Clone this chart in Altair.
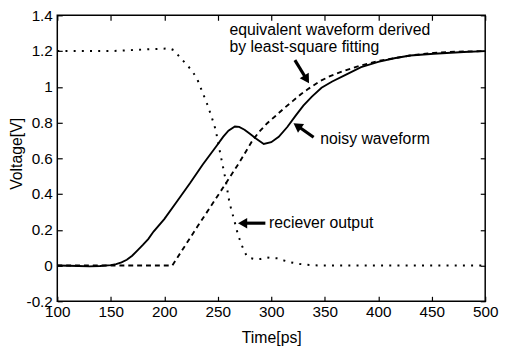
import math
import altair as alt
import pandas as pd

# ---------------- data ----------------
noisy_t = [100, 120, 130, 140, 150, 155, 160, 165, 170, 175, 180, 185, 190, 200, 212, 224, 236, 249,
           255, 260, 266, 270, 275, 280, 286, 293, 300, 307, 315, 323, 330, 338, 347, 357, 369, 384,
           400, 415, 430, 452, 480, 500]
noisy_v = [0, -0.003, -0.005, -0.003, 0.002, 0.008, 0.018, 0.032, 0.055, 0.085, 0.115, 0.148, 0.19, 0.26,
           0.36, 0.46, 0.565, 0.67, 0.72, 0.755, 0.778, 0.776, 0.76, 0.737, 0.709, 0.68, 0.69, 0.72,
           0.775, 0.84, 0.895, 0.945, 0.995, 1.03, 1.065, 1.11, 1.14, 1.16, 1.175, 1.185, 1.195, 1.2]

fit_t = [100, 207.5, 231, 255, 270, 283, 289, 296, 304, 312, 320, 328, 335, 345, 355, 366, 384, 400,
         415, 430, 452, 475, 500]
fit_v = [0, 0, 0.218, 0.436, 0.575, 0.705, 0.75, 0.795, 0.837, 0.88, 0.92, 0.96, 0.99, 1.03, 1.06,
         1.085, 1.12, 1.145, 1.16, 1.175, 1.19, 1.197, 1.2]

rx_t = [100, 150, 185, 205, 209, 214, 220, 226, 231, 235, 240, 244, 248, 252, 257, 261, 266, 269, 274,
        277, 280, 285, 290, 296, 300, 306, 312, 318, 325, 333, 345, 400, 500]
rx_v = [1.2, 1.2, 1.21, 1.215, 1.205, 1.17, 1.13, 1.09, 1.04, 0.98, 0.905, 0.837, 0.76, 0.637, 0.49,
        0.35, 0.24, 0.17, 0.09, 0.055, 0.042, 0.036, 0.037, 0.045, 0.042, 0.04, 0.028, 0.018, 0.01,
        0.004, 0, 0, 0]

label_text = ["equivalent waveform derived", "by least-square fitting", "noisy waveform", "reciever output"]
label_t = [261, 261, 345.8, 297.9]
label_v = [1.319, 1.22, 0.709, 0.237]

arrow_t0 = [322.1, 339.6, 294.5]
arrow_v0 = [1.149, 0.718, 0.237]
arrow_t1 = [334.5, 322.1, 270.5]
arrow_v1 = [1.028, 0.791, 0.237]

x_ticks = [100, 150, 200, 250, 300, 350, 400, 450, 500]
y_ticks = [-0.2, 0, 0.2, 0.4, 0.6, 0.8, 1, 1.2, 1.4]

# ---------------- layout ----------------
W, H = 434, 290
X0, X1 = 100, 500
Y0, Y1 = -0.2, 1.4
sx = W / (X1 - X0)
sy = H / (Y1 - Y0)
FONT = "Liberation Sans"
FS = 16
TFS = 15.5

xs = alt.Scale(domain=[X0, X1], nice=False, zero=False)
ys = alt.Scale(domain=[Y0, Y1], nice=False, zero=False)

df_noisy = pd.DataFrame({"t": noisy_t, "v": noisy_v})
df_fit = pd.DataFrame({"t": fit_t, "v": fit_v})
df_rx = pd.DataFrame({"t": rx_t, "v": rx_v})
df_lab = pd.DataFrame({"t": label_t, "v": label_v, "txt": label_text})

# arrows: shaft + triangular head, computed from the arrow lists
rows = []
for t0, v0, t1, v1 in zip(arrow_t0, arrow_v0, arrow_t1, arrow_v1):
    dx = (t1 - t0) * sx
    dy = -(v1 - v0) * sy
    L = math.hypot(dx, dy)
    ux, uy = dx / L, dy / L
    ang = math.degrees(math.atan2(ux, -uy)) % 360
    hc = 4.5
    rows.append({
        "t0": t0, "v0": v0,
        "te": t1 - 6.0 * ux / sx, "ve": v1 + 6.0 * uy / sy,
        "th": t1 - hc * ux / sx, "vh": v1 + hc * uy / sy,
        "ang": ang,
    })
df_arr = pd.DataFrame(rows)

common = dict(
    grid=False, domain=False, tickColor="black", tickWidth=1.2, tickSize=5, offset=-5,
    labelFont=FONT, labelFontSize=TFS, labelColor="black", labelFlush=False, labelOverlap=False,
    labelBound=False, titleFont=FONT, titleFontSize=FS, titleColor="black", titleFontWeight="normal",
)
lbl = "datum.value < 0 ? '-' + format(-datum.value, '~g') : format(datum.value, '~g')"

ax_bottom = alt.Axis(orient="bottom", values=x_ticks, labelPadding=3, labelExpr=lbl,
                     title="Time[ps]", titleX=W / 2, titleY=42, titleBaseline="middle",
                     titleAlign="center", **common)
ax_left = alt.Axis(orient="left", values=y_ticks, labelPadding=5, labelExpr=lbl,
                   title="Voltage[V]", titleX=-46.5, titleY=140, titleBaseline="middle",
                   titleAlign="center", titleAngle=270, **common)
ax_top = alt.Axis(orient="top", values=x_ticks, labels=False, title=None, **common)
ax_right = alt.Axis(orient="right", values=y_ticks, labels=False, title=None, **common)

solid = alt.Chart(df_noisy).mark_line(color="black", strokeWidth=1.9).encode(
    x=alt.X("t:Q", scale=xs, axis=ax_bottom),
    y=alt.Y("v:Q", scale=ys, axis=ax_left),
)
dashed = alt.Chart(df_fit).mark_line(color="black", strokeWidth=1.9, strokeDash=[5, 4]).encode(
    x=alt.X("t:Q", scale=xs, axis=ax_top),
    y=alt.Y("v:Q", scale=ys, axis=ax_right),
)
dotted = alt.Chart(df_rx).mark_line(color="black", strokeWidth=2, strokeDash=[2, 6.3]).encode(
    x=alt.X("t:Q", scale=xs, axis=None),
    y=alt.Y("v:Q", scale=ys, axis=None),
)
shafts = alt.Chart(df_arr).mark_rule(color="black", strokeWidth=3.2).encode(
    x=alt.X("t0:Q", scale=xs, axis=None), y=alt.Y("v0:Q", scale=ys, axis=None),
    x2="te:Q", y2="ve:Q",
)
heads = alt.Chart(df_arr).mark_point(shape="triangle", filled=True, color="black", size=115, opacity=1).encode(
    x=alt.X("th:Q", scale=xs, axis=None), y=alt.Y("vh:Q", scale=ys, axis=None),
    angle=alt.Angle("ang:Q", scale=None),
)
texts = alt.Chart(df_lab).mark_text(align="left", baseline="middle", font=FONT, fontSize=FS,
                                    color="black").encode(
    x=alt.X("t:Q", scale=xs, axis=None), y=alt.Y("v:Q", scale=ys, axis=None), text="txt:N",
)

chart = alt.layer(solid, dashed, dotted, shafts, heads, texts).resolve_axis(
    x="independent", y="independent"
).properties(
    width=W, height=H,
    padding={"left": 50, "top": 5, "right": 14, "bottom": 47},
    autosize=alt.AutoSizeParams(type="none"),
    background="white",
).configure_view(stroke="black", strokeWidth=1.5)

chart.save("out.html", embed_options={"renderer": "svg", "actions": False})
